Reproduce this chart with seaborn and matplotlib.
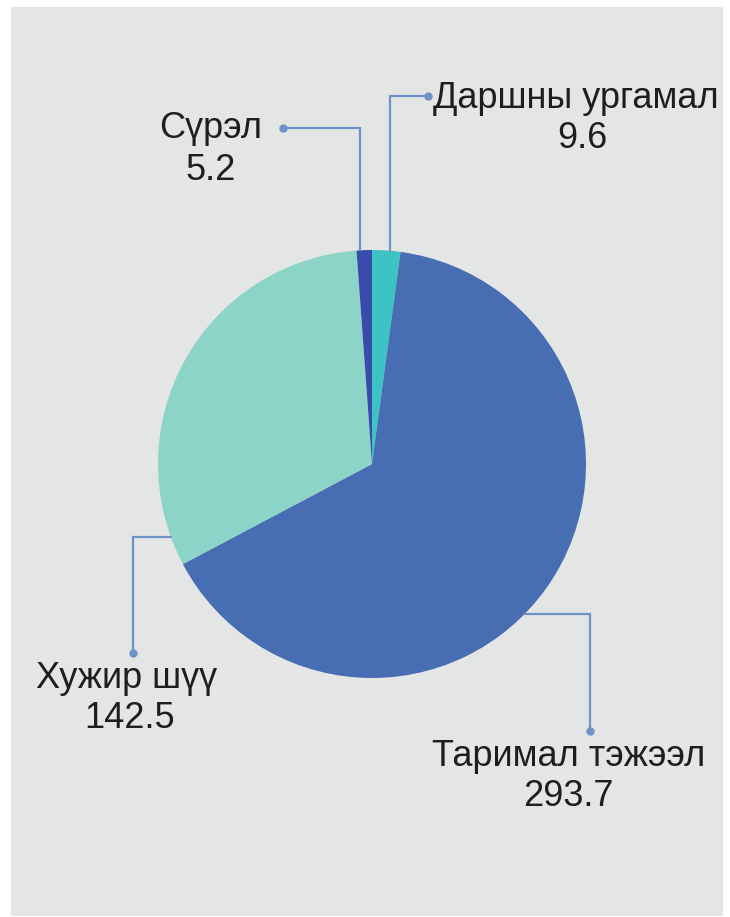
import numpy as np
import matplotlib
matplotlib.use("Agg")
import matplotlib.pyplot as plt
import seaborn as sns

# Data (clockwise from 12 o'clock)
labels = ["Даршны ургамал", "Таримал тэжээл", "Хужир шүү", "Сүрэл"]
values = [9.6, 293.7, 142.5, 5.2]
colors = ["#3cc4c4", "#476db3", "#8dd4c8", "#3a4cab"]

sns.set_theme(style="white")
plt.rcParams["font.family"] = ["Liberation Sans", "DejaVu Sans"]

W, H = 730, 917
BG = "#e3e6e5"
LINE = "#6f93c9"
TXT = "#1e1e1e"

fig = plt.figure(figsize=(W / 100, H / 100), dpi=100, facecolor="white")
# grey panel, axes data units = pixels (y measured upward)
px0, py0, px1, py1 = 11, 7, 723, 916
ax = fig.add_axes([px0 / W, 1 - py1 / H, (px1 - px0) / W, (py1 - py0) / H])
ax.set_facecolor(BG)

def Y(y):
    return H - y

cx, cy, r = 372, 464, 214
wedges, _ = ax.pie(values, colors=colors, startangle=90, counterclock=False,
                   radius=r, center=(cx, Y(cy)), frame=True,
                   wedgeprops=dict(linewidth=0))

ax.set_xlim(px0, px1)
ax.set_ylim(Y(py1), Y(py0))
ax.set_aspect("equal", adjustable="box")
ax.set_xticks([])
ax.set_yticks([])
for s in ax.spines.values():
    s.set_visible(False)

def circle_y_top(x):
    return cy - np.sqrt(r ** 2 - (x - cx) ** 2)

def circle_x(y, side):
    return cx + side * np.sqrt(r ** 2 - (y - cy) ** 2)

# leader lines: (pixel points, top-down)
leaders = {
    "Сүрэл": [(283, 128), (360, 128), (360, circle_y_top(360))],
    "Даршны ургамал": [(428, 96), (390, 96), (390, circle_y_top(390))],
    "Хужир шүү": [(133, 653), (133, 537), (circle_x(537, -1), 537)],
    "Таримал тэжээл": [(590, 731), (590, 614), (circle_x(614, 1), 614)],
}
for name, pts in leaders.items():
    xs = [p[0] for p in pts]
    ys = [Y(p[1]) for p in pts]
    ax.plot(xs, ys, color=LINE, lw=1.6, solid_joinstyle="miter", zorder=3)
    ax.plot(xs[0], ys[0], "o", color=LINE, ms=5, zorder=4)

# label positions (centre of name line, centre of value line)
label_pos = {
    "Сүрэл": (211, 128, 211, 170),
    "Даршны ургамал": (576, 98, 582, 139),
    "Хужир шүү": (127, 678, 130, 718),
    "Таримал тэжээл": (569, 757, 568, 797),
}
fs = 26
for name, val in zip(labels, values):
    x1, y1, x2, y2 = label_pos[name]
    ax.text(x1, Y(y1), name, ha="center", va="center", fontsize=fs, color=TXT)
    ax.text(x2, Y(y2), f"{val:.1f}", ha="center", va="center", fontsize=fs, color=TXT)

fig.savefig("out.png", dpi=100, facecolor="white")
